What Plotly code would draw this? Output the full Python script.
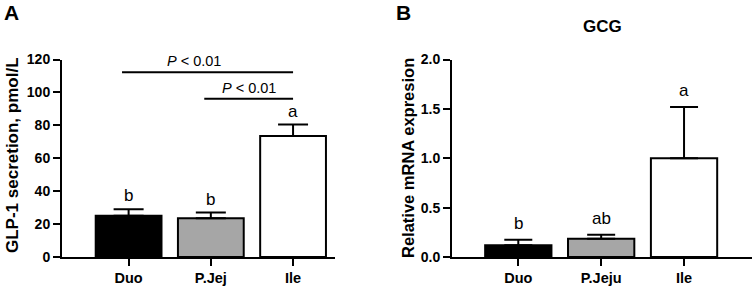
import plotly.graph_objects as go

# ---- data ----
cats_a = ["Duo", "P.Jej", "Ile"]
glp1_mean = [25.0, 23.5, 73.5]
glp1_sem = [4.0, 3.5, 7.0]
letters_a = ["b", "b", "a"]

cats_b = ["Duo", "P.Jeju", "Ile"]
gcg_mean = [0.12, 0.185, 1.0]
gcg_sem = [0.055, 0.04, 0.52]
letters_b = ["b", "ab", "a"]

bar_colors = ["#000000", "#a6a6a6", "#ffffff"]

ytitle_a = "GLP-1 secretion, pmol/L"
ytitle_b = "Relative mRNA expresion"

# significance brackets for panel A
sig_from = ["Duo", "P.Jej"]
sig_to = ["Ile", "Ile"]
sig_y = [112.3, 96.2]
sig_text = ["<i>P</i> < 0.01", "<i>P</i> < 0.01"]
sig_label_shift = [-0.16, 0.0]

FONT = "Liberation Sans, Arial, sans-serif"
W, H = 755, 288

fig = go.Figure()

fig.add_trace(go.Bar(
    x=cats_a, y=glp1_mean, width=0.8,
    marker=dict(color=bar_colors, line=dict(color="black", width=2)),
    error_y=dict(type="data", symmetric=False, array=glp1_sem,
                 arrayminus=[0] * len(glp1_sem), color="black", thickness=2, width=15),
    xaxis="x", yaxis="y", showlegend=False,
))
fig.add_trace(go.Bar(
    x=cats_b, y=gcg_mean, width=0.8,
    marker=dict(color=bar_colors, line=dict(color="black", width=2)),
    error_y=dict(type="data", symmetric=False, array=gcg_sem,
                 arrayminus=[0] * len(gcg_sem), color="black", thickness=2, width=14),
    xaxis="x2", yaxis="y2", showlegend=False,
))

ydom = [1 - 257 / H, 1 - 59.5 / H]
common_x = dict(showline=True, linecolor="black", linewidth=2, ticks="outside",
                ticklen=7, tickwidth=2, tickcolor="black", showgrid=False, zeroline=False,
                automargin=False,
                tickfont=dict(family=FONT, size=14.5, color="black", weight="bold"),
                type="category")
common_y = dict(showline=True, linecolor="black", linewidth=2, ticks="outside",
                ticklen=7, tickwidth=2, tickcolor="black", showgrid=False, zeroline=False,
                automargin=False,
                tickfont=dict(family=FONT, size=14, color="black", weight="bold"))

fig.update_layout(
    width=W, height=H, margin=dict(l=0, r=0, t=0, b=0, pad=0, autoexpand=False),
    paper_bgcolor="white", plot_bgcolor="white",
    showlegend=False,
    xaxis=dict(domain=[62 / W, 335 / W], range=[-0.81, 2.51], anchor="y", **common_x),
    yaxis=dict(domain=ydom, range=[0, 120], tickvals=[0, 20, 40, 60, 80, 100, 120],
               anchor="x", **common_y),
    xaxis2=dict(domain=[452 / W, 752 / W], range=[-0.8, 2.82], anchor="y2", **common_x),
    yaxis2=dict(domain=ydom, range=[0, 2.0], tickvals=[0, 0.5, 1.0, 1.5, 2.0],
                ticktext=["0.0", "0.5", "1.0", "1.5", "2.0"], anchor="x2", **common_y),
)

ann = []
for c, m, s, l in zip(cats_a, glp1_mean, glp1_sem, letters_a):
    ann.append(dict(x=c, y=m + s, xref="x", yref="y", text=l, showarrow=False,
                    yanchor="bottom", yshift=2, font=dict(family=FONT, size=17, color="black")))
for c, m, s, l in zip(cats_b, gcg_mean, gcg_sem, letters_b):
    ann.append(dict(x=c, y=m + s, xref="x2", yref="y2", text=l, showarrow=False,
                    yanchor="bottom", yshift=5, font=dict(family=FONT, size=17, color="black")))

shapes = []
for f, t, yv, txt, dx in zip(sig_from, sig_to, sig_y, sig_text, sig_label_shift):
    i0 = cats_a.index(f) - 0.08
    i1 = cats_a.index(t)
    shapes.append(dict(type="line", xref="x", yref="y", x0=i0, x1=i1, y0=yv, y1=yv,
                       line=dict(color="black", width=2)))
    ann.append(dict(x=(i0 + i1) / 2 + dx, y=yv, xref="x", yref="y", text=txt,
                    showarrow=False, yanchor="bottom", yshift=1,
                    font=dict(family=FONT, size=14.5, color="black")))

# y-axis titles (rotated)
ann.append(dict(x=12.5 / W, y=1 - 155.5 / H, xref="paper", yref="paper", text=f"<b>{ytitle_a}</b>",
                textangle=-90, showarrow=False, xanchor="center", yanchor="middle",
                font=dict(family=FONT, size=17, color="black")))
ann.append(dict(x=407.5 / W, y=1 - 158.5 / H, xref="paper", yref="paper", text=f"<b>{ytitle_b}</b>",
                textangle=-90, showarrow=False, xanchor="center", yanchor="middle",
                font=dict(family=FONT, size=16.5, color="black")))

ann.append(dict(x=2 / W, y=1 - 12.5 / H, xref="paper", yref="paper", text="<b>A</b>",
                showarrow=False, xanchor="left", yanchor="middle",
                font=dict(family=FONT, size=21, color="black")))
ann.append(dict(x=394 / W, y=1 - 12.5 / H, xref="paper", yref="paper", text="<b>B</b>",
                showarrow=False, xanchor="left", yanchor="middle",
                font=dict(family=FONT, size=21, color="black")))
ann.append(dict(x=602 / W, y=1 - 26 / H, xref="paper", yref="paper", text="<b>GCG</b>",
                showarrow=False, xanchor="center", yanchor="middle",
                font=dict(family=FONT, size=17, color="black")))

fig.update_layout(annotations=ann, shapes=shapes)
fig.write_html("out.html", config={"displayModeBar": False},
               post_script="document.body.style.margin='0';document.body.style.overflow='hidden';")
